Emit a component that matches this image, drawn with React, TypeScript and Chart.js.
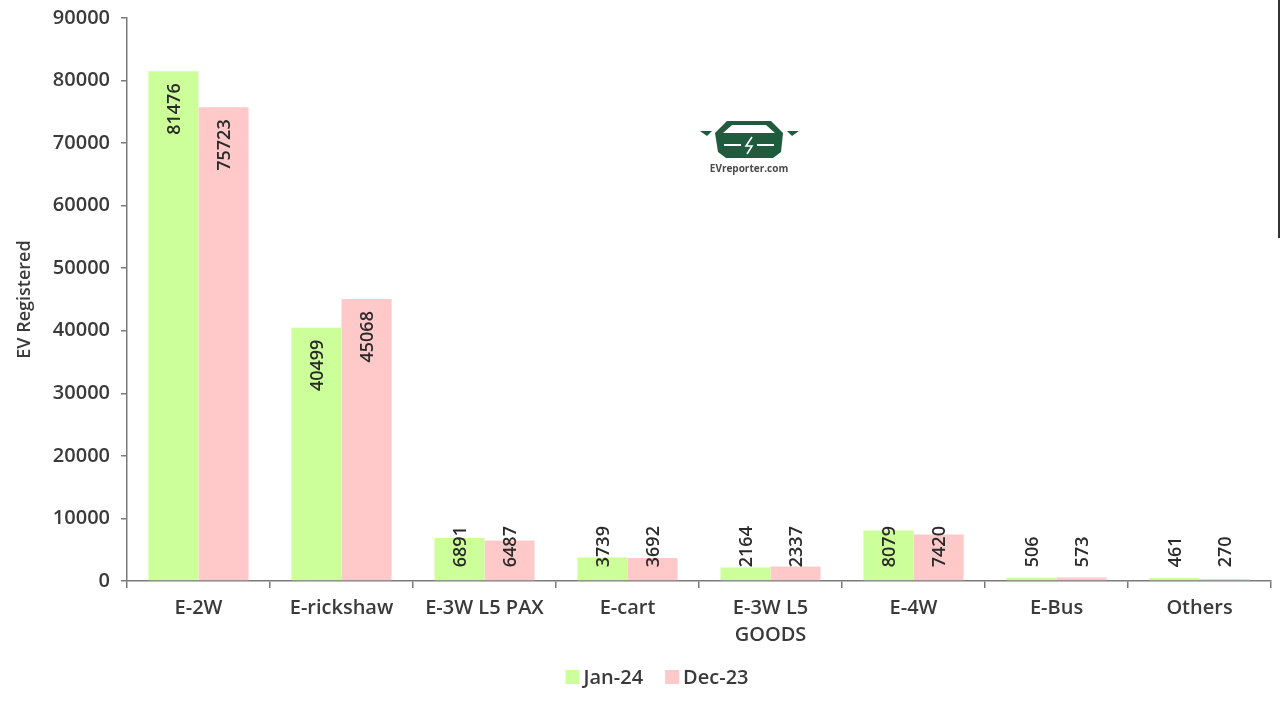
import React, { useEffect, useRef } from "react";
import { Chart, registerables } from "chart.js";

Chart.register(...registerables);

const categories: (string | string[])[] = [
  "E-2W",
  "E-rickshaw",
  "E-3W L5 PAX",
  "E-cart",
  ["E-3W L5", "GOODS"],
  "E-4W",
  "E-Bus",
  "Others",
];
const jan24 = [81476, 40499, 6891, 3739, 2164, 8079, 506, 461];
const dec23 = [75723, 45068, 6487, 3692, 2337, 7420, 573, 270];
const seriesNames = ["Jan-24", "Dec-23"];
const yMin = 0;
const yMax = 90000;
const yStep = 10000;
const yTitle = "EV Registered";
const logoText = "EVreporter.com";

const GREEN = "#ccff99";
const PINK = "#ffc9c9";
const AXIS = "#7a7a7a";
const TEXT = "#3a3a3a";
const FONT = "'Open Sans', sans-serif";

const labelPlugin = {
  id: "barLabels",
  afterDatasetsDraw(chart: any) {
    const ctx = chart.ctx;
    ctx.save();
    ctx.font = `600 18px ${FONT}`;
    ctx.fillStyle = "#2a2a2a";
    ctx.textAlign = "left";
    ctx.textBaseline = "middle";
    chart.data.datasets.forEach((ds: any, di: number) => {
      const meta = chart.getDatasetMeta(di);
      meta.data.forEach((bar: any, i: number) => {
        const txt = String(ds.data[i]);
        const w = ctx.measureText(txt).width;
        let bottom = bar.y + 12 + w;
        if (bottom > bar.base - 13) bottom = bar.base - 13;
        ctx.save();
        ctx.translate(bar.x + 1, bottom);
        ctx.rotate(-Math.PI / 2);
        ctx.fillText(txt, 0, 0);
        ctx.restore();
      });
    });
    ctx.restore();
  },
};

const decorPlugin = {
  id: "decor",
  afterDraw(chart: any) {
    const ctx = chart.ctx;
    ctx.save();
    // legend
    ctx.font = `600 20px ${FONT}`;
    ctx.textBaseline = "middle";
    ctx.textAlign = "left";
    const box = 14;
    const gap = 4;
    const itemGap = 22;
    const widths = seriesNames.map((n) => ctx.measureText(n).width);
    const total = box + gap + widths[0] + itemGap + box + gap + widths[1];
    let x = 657 - total / 2;
    const cy = 677;
    chart.data.datasets.forEach((ds: any, i: number) => {
      ctx.fillStyle = ds.backgroundColor;
      ctx.fillRect(x, cy - box / 2, box, box);
      x += box + gap;
      ctx.fillStyle = TEXT;
      ctx.fillText(ds.label, x, cy + 1);
      x += widths[i] + itemGap;
    });

    // logo
    const g = "#1f5b3d";
    ctx.fillStyle = g;
    ctx.beginPath();
    ctx.moveTo(727, 121);
    ctx.lineTo(771, 121);
    ctx.lineTo(783, 133);
    ctx.lineTo(781, 152);
    ctx.lineTo(773, 158);
    ctx.lineTo(726, 158);
    ctx.lineTo(718, 152);
    ctx.lineTo(715, 133);
    ctx.closePath();
    ctx.fill();
    ctx.fillStyle = "#ffffff";
    ctx.beginPath();
    ctx.moveTo(732, 125);
    ctx.lineTo(766, 125);
    ctx.lineTo(775, 133);
    ctx.lineTo(723, 133);
    ctx.closePath();
    ctx.fill();
    ctx.strokeStyle = "#ffffff";
    ctx.lineWidth = 2;
    ctx.beginPath();
    ctx.moveTo(724, 145);
    ctx.lineTo(741, 145);
    ctx.moveTo(757, 145);
    ctx.lineTo(774, 145);
    ctx.stroke();
    ctx.lineWidth = 1.6;
    ctx.beginPath();
    ctx.moveTo(752, 137);
    ctx.lineTo(746, 146);
    ctx.lineTo(752, 146);
    ctx.lineTo(747, 154);
    ctx.stroke();
    ctx.fillStyle = g;
    ctx.beginPath();
    ctx.moveTo(700, 131);
    ctx.lineTo(712, 131);
    ctx.lineTo(707, 136);
    ctx.closePath();
    ctx.fill();
    ctx.beginPath();
    ctx.moveTo(787, 131);
    ctx.lineTo(799, 131);
    ctx.lineTo(792, 136);
    ctx.closePath();
    ctx.fill();
    ctx.fillStyle = "#4a4a4a";
    ctx.font = `bold 10px ${FONT}`;
    ctx.textAlign = "center";
    ctx.fillText(logoText, 749, 169);

    // edge line artifact
    ctx.fillStyle = "#333333";
    ctx.fillRect(1278, 0, 2, 238);
    ctx.restore();
  },
};

export default function App() {
  const ref = useRef<HTMLCanvasElement | null>(null);

  useEffect(() => {
    document.body.style.margin = "0";
    const canvas = ref.current;
    if (!canvas) return;
    Chart.defaults.font.family = FONT;
    const chart = new Chart(canvas, {
      type: "bar",
      data: {
        labels: categories,
        datasets: [
          {
            label: seriesNames[0],
            data: jan24,
            backgroundColor: GREEN,
            categoryPercentage: 0.7,
            barPercentage: 1.0,
          },
          {
            label: seriesNames[1],
            data: dec23,
            backgroundColor: PINK,
            categoryPercentage: 0.7,
            barPercentage: 1.0,
          },
        ],
      },
      options: {
        responsive: false,
        animation: false,
        layout: { padding: { left: 0, right: 9, top: 18, bottom: 0 } },
        plugins: {
          legend: { display: false },
          tooltip: { enabled: false },
        },
        scales: {
          x: {
            offset: true,
            grid: {
              display: true,
              offset: true,
              drawOnChartArea: false,
              drawTicks: true,
              tickLength: 7,
              color: AXIS,
              lineWidth: 1.5,
            },
            border: { display: true, color: AXIS, width: 1.5 },
            ticks: {
              color: TEXT,
              font: { size: 20, weight: 600, lineHeight: 1.35 },
              padding: 7,
              maxRotation: 0,
              autoSkip: false,
            },
            afterFit: (scale: any) => {
              scale.height = 139;
            },
          },
          y: {
            min: yMin,
            max: yMax,
            grid: {
              display: true,
              drawOnChartArea: false,
              drawTicks: true,
              tickLength: 6,
              color: AXIS,
              lineWidth: 1.5,
            },
            border: { display: true, color: AXIS, width: 1.5 },
            ticks: {
              stepSize: yStep,
              color: TEXT,
              font: { size: 20, weight: 600 },
              padding: 11,
              callback: (v: any) => String(v),
            },
            title: {
              display: true,
              text: yTitle,
              color: TEXT,
              font: { size: 18, weight: 600 },
              padding: { top: 14, bottom: 0 },
            },
            afterFit: (scale: any) => {
              scale.width = 127;
              scale.paddingTop = 0;
              scale.paddingBottom = 0;
            },
          },
        },
      },
      plugins: [labelPlugin, decorPlugin],
    });
    return () => chart.destroy();
  }, []);

  return (
    <div style={{ position: "absolute", left: 0, top: 0, width: 1280, height: 720, background: "#fff" }}>
      <canvas ref={ref} width={1280} height={720} />
    </div>
  );
}
